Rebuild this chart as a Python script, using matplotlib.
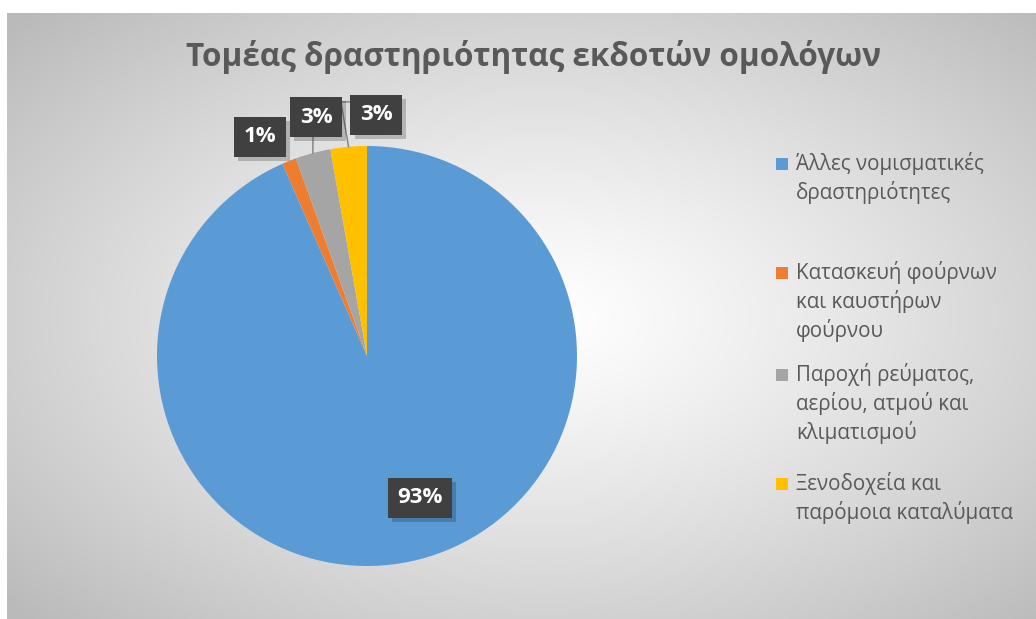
import matplotlib
matplotlib.use('Agg')

import numpy as np
import matplotlib.pyplot as plt
import matplotlib.patheffects as pe
from matplotlib.patches import Rectangle

plt.rcParams['font.family'] = ['Open Sans', 'DejaVu Sans']

title = u'Τομέας δραστηριότητας εκδοτών ομολόγων'
labels = [u'Άλλες νομισματικές\nδραστηριότητες',
          u'Κατασκευή φούρνων\nκαι καυστήρων\nφούρνου',
          u'Παροχή ρεύματος,\nαερίου, ατμού και\nκλιματισμού',
          u'Ξενοδοχεία και\nπαρόμοια καταλύματα']
values = [93.4, 1.1, 2.7, 2.8]
colors = ['#5B9BD5', '#ED7D31', '#A5A5A5', '#FFC000']

text_color = '#595959'
W, H = 1036, 619

fig = plt.figure(figsize=(W / 100.0, H / 100.0), dpi=100)

# radial gradient panel
bg = fig.add_axes([7.0 / W, 0, 1 - 7.0 / W, (H - 13.0) / H])
yy, xx = np.mgrid[0:300, 0:500]
cx, cy = 260, 150
r = np.sqrt(((xx - cx) / 250.0) ** 2 + ((yy - cy) / 150.0) ** 2) / np.sqrt(2)
t = np.clip(r, 0, 1) ** 1.2
shade = 1.0 - 0.27 * t
img = np.dstack([shade, shade, shade])
bg.imshow(img, aspect='auto', extent=[0, 1, 0, 1], interpolation='bilinear')
bg.axis('off')

fig.text(534.0 / W, 1 - 57.0 / H, title, ha='center', va='center',
         fontsize=22.7, fontweight='bold', color=text_color)

# pie
R = 210.0
pcx, pcy = 367.0, 356.0
ax = fig.add_axes([(pcx - R) / W, (H - pcy - R) / H, 2 * R / W, 2 * R / H])
wedges, _ = ax.pie(values, colors=colors, startangle=90, counterclock=False,
                   radius=1.0, wedgeprops=dict(linewidth=0))
ax.set_xlim(-1, 1)
ax.set_ylim(-1, 1)
ax.axis('off')

# data labels (box centres in axes data units)
label_pos = [(0.252, -0.676), (-0.51, 1.043), (-0.243, 1.138), (0.043, 1.148)]
total = float(sum(values))
for i, (w, v) in enumerate(zip(wedges, values)):
    txt = '%d%%' % round(100 * v / total)
    x, y = label_pos[i]
    lab = ax.text(x, y, txt, ha='center', va='center', fontsize=16, fontweight='bold',
                  color='white', zorder=5, clip_on=False,
                  bbox=dict(boxstyle='square,pad=0.42', fc='#404040', ec='none', lw=0))
    lab.get_bbox_patch().set_path_effects([
        pe.SimplePatchShadow(offset=(3, -3), shadow_rgbFace='black', alpha=0.2),
        pe.Normal()])

# leader lines for the small slices
for i in [2, 3]:
    w = wedges[i]
    mid = np.deg2rad((w.theta1 + w.theta2) / 2.0)
    ex, ey = np.cos(mid), np.sin(mid)
    if i == 2:
        ax.plot([ex, -0.257], [ey, 1.043], color='#7f7f7f', lw=1, clip_on=False, zorder=3)
    else:
        ax.plot([ex, -0.124, -0.071], [ey, 1.21, 1.21], color='#7f7f7f', lw=1,
                clip_on=False, zorder=3)

# legend
row_y = [167, 276, 378, 487]
for lab, col, ry in zip(labels, colors, row_y):
    fig.patches.append(Rectangle((776.0 / W, 1 - (ry + 3.0) / H), 12.0 / W, 12.0 / H,
                                 transform=fig.transFigure, fc=col, ec='none'))
    fig.text(796.0 / W, 1 - (ry - 15.0) / H, lab, ha='left', va='top',
             fontsize=14.8, color=text_color, linespacing=1.32)

plt.savefig('out.png', dpi=100)
